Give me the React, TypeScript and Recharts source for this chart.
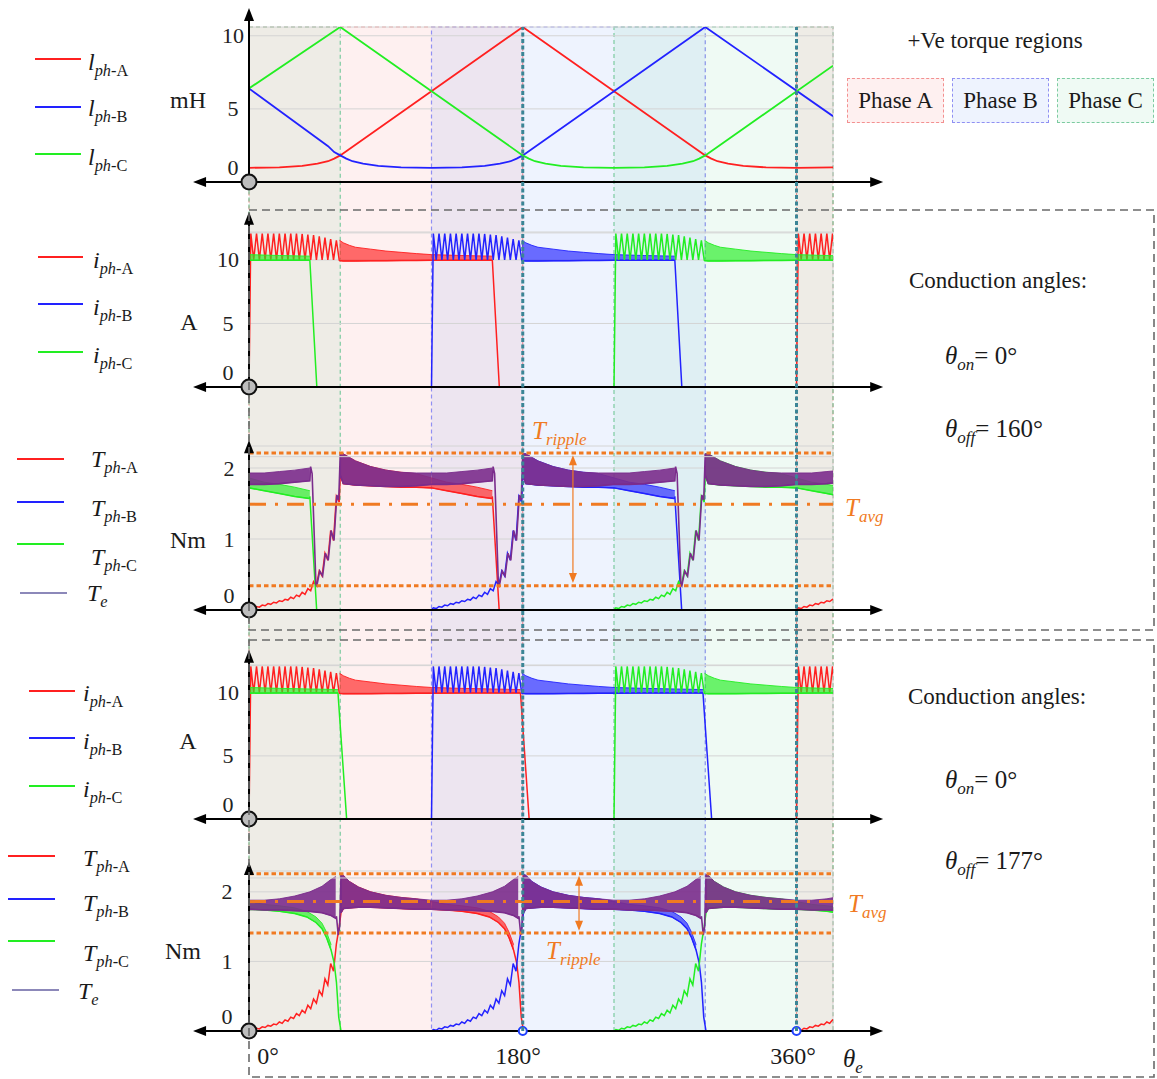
import React from 'react';
import {
    ComposedChart,
    Line,
    Area,
    XAxis,
    YAxis,
    CartesianGrid,
    ReferenceArea,
    ReferenceLine,
    ReferenceDot,
} from 'recharts';

/* ─── page / plot geometry ─────────────────────────────────────────────── */
const W = 1157;
const H = 1079;
const PLOT_LEFT = 249;
const PLOT_RIGHT = 833;
const Y_W = 60;
const REGION_TOP = 27;
const REGION_BOTTOM = 1031;
const SERIF = '"Liberation Serif", "DejaVu Serif", "Times New Roman", serif';

const RED = '#ff2020';
const BLUE = '#2222ff';
const GREEN = '#22ee22';
const PURPLE = '#7b2c8c';
const ORANGE = '#f07a22';
const TEAL = '#3b8596';
const GRID = '#d4d4d4';

/* ─── x axis: electrical angle (deg) ───────────────────────────────────── */
const X_DOMAIN: [number, number] = [0, 384];
const X_GRID = [0, 48, 96, 144, 192, 240, 288, 336, 384];
const X_ARROW = [-36.8, 417];

/* ─── +Ve torque regions ───────────────────────────────────────────────── */
const REGION_PHASE = ['A', 'A', 'B', 'C', 'C'];
const REGION_FROM = [0, 360, 120, 0, 240];
const REGION_TO = [180, 384, 300, 60, 384];
const PHASE_FILL: Record<string, string> = {
    A: 'rgba(250,105,105,0.10)',
    B: 'rgba(70,120,240,0.09)',
    C: 'rgba(50,185,115,0.08)',
};
const PHASE_EDGE: Record<string, string> = { A: '#f39090', B: '#9090f3', C: '#7ccba0' };
const PHASE_COLOR: Record<string, string> = { A: RED, B: BLUE, C: GREEN };

/* ─── phase turn-on angles (C was already conducting at the start) ─────── */
const ON_A = [0, 360];
const ON_B = [120];
const ON_C = [-120, 240];
const TE_PERIODS = [0, 120, 240, 360];

/* ─── inductance, mH ───────────────────────────────────────────────────── */
const L_A_DEG = [0, 20, 35, 45, 52, 56, 60, 180, 300, 304, 308, 315, 325, 340, 360, 384];
const L_A = [0.97, 1.0, 1.1, 1.25, 1.42, 1.6, 1.82, 10.6, 1.82, 1.6, 1.42, 1.25, 1.1, 1.0, 0.97, 1.0];
const L_B_DEG = [0, 52, 56, 60, 64, 68, 75, 85, 100, 120, 140, 155, 165, 172, 176, 180, 300, 384];
const L_B = [6.4, 2.45, 2.05, 1.82, 1.6, 1.42, 1.25, 1.1, 1.0, 0.97, 1.0, 1.1, 1.25, 1.42, 1.6, 1.82, 10.6, 4.5];
const L_C_DEG = [0, 60, 180, 184, 188, 195, 205, 220, 240, 260, 275, 285, 292, 296, 300, 384];
const L_C = [6.4, 10.6, 1.82, 1.6, 1.42, 1.25, 1.1, 1.0, 0.97, 1.0, 1.1, 1.25, 1.42, 1.6, 1.82, 7.95];

/* ─── hysteresis chopping ──────────────────────────────────────────────── */
const CHOP_FIRST = 1.2;
const CHOP_STEP = 3.75;

/* ─── phase current, A ─────────────────────────────────────────────────── */
const I_PEAKS = [12.1, 12.1, 12.1, 12.1, 12.1, 12.1, 12.1, 12.1, 12.1, 12.05, 12.0, 11.95, 11.85, 11.75, 11.65, 11.55];
const I_TROUGHS = [10, 10, 10, 10, 10, 10, 10, 10, 10, 10, 10, 10, 10, 10, 10, 10];
const I_TAIL_DEG = [59.5, 62, 66, 70, 80, 90, 100, 110, 120, 140, 160, 170, 178.5];
const I_TAIL_HI = [11.55, 11.35, 11.15, 11.0, 10.85, 10.7, 10.6, 10.5, 10.42, 10.35, 10.3, 10.28, 10.25];
const I_TAIL_LO = [9.95, 9.92, 9.92, 9.92, 9.93, 9.94, 9.95, 9.96, 9.97, 9.98, 9.98, 9.98, 9.98];
const I160_OFF_DEG = [160, 164.6];
const I160_OFF = [10, 0];
const I177_OFF_DEG = [178.5, 184.2];
const I177_OFF = [10, 0];

/* ─── phase torque, Nm (theta_off = 160) ───────────────────────────────── */
const T160_PEAKS = [0.03, 0.05, 0.07, 0.09, 0.11, 0.13, 0.15, 0.18, 0.21, 0.25, 0.3, 0.4, 0.55, 0.8, 1.12, 1.6];
const T160_TROUGHS = [0.02, 0.04, 0.06, 0.08, 0.1, 0.12, 0.14, 0.16, 0.19, 0.22, 0.27, 0.35, 0.48, 0.7, 0.98, 1.52];
const T160_TAIL_DEG = [60, 62, 70, 80, 90, 100, 110, 120, 130, 140, 150, 160];
const T160_TAIL_HI = [2.2, 2.2, 2.1, 2.02, 1.97, 1.94, 1.92, 1.86, 1.8, 1.77, 1.73, 1.68];
const T160_TAIL_LO = [1.9, 1.78, 1.76, 1.75, 1.74, 1.73, 1.73, 1.72, 1.68, 1.64, 1.6, 1.57];
const T160_OFF_DEG = [160, 164.5];
const T160_OFF = [1.6, 0];

/* ─── total torque Te (theta_off = 160), one 120 deg period ────────────── */
const TE160_B1_DEG = [0, 10, 20, 30, 40];
const TE160_B1_HI = [1.93, 1.93, 1.95, 1.97, 2.0];
const TE160_B1_LO = [1.77, 1.77, 1.78, 1.8, 1.82];
const TE160_MID_DEG = [40.5, 41.5, 44, 44.6, 46.5, 48.4, 50.25, 52.1, 54, 55.9, 57.75, 59, 60];
const TE160_MID = [2.02, 1.92, 0.36, 0.34, 0.55, 0.48, 0.8, 0.7, 1.12, 0.98, 1.62, 1.55, 2.2];
const TE160_B2_DEG = [60, 62, 70, 80, 90, 100, 110, 120];
const TE160_B2_HI = [2.2, 2.2, 2.1, 2.02, 1.97, 1.94, 1.93, 1.93];
const TE160_B2_LO = [1.9, 1.78, 1.76, 1.75, 1.74, 1.74, 1.75, 1.77];

/* ─── phase torque, Nm (theta_off = 177) ───────────────────────────────── */
const T177_PEAKS = [0.02, 0.04, 0.06, 0.08, 0.1, 0.13, 0.16, 0.2, 0.25, 0.3, 0.37, 0.46, 0.58, 0.75, 0.97, 1.25];
const T177_TROUGHS = [0.01, 0.03, 0.05, 0.07, 0.09, 0.11, 0.14, 0.18, 0.22, 0.26, 0.32, 0.4, 0.51, 0.66, 0.86, 1.5];
const T177_TAIL_DEG = [60.5, 62, 66, 72, 80, 90, 100, 110, 120, 130, 140, 150, 158, 164, 168, 171, 174];
const T177_TAIL_HI = [2.25, 2.24, 2.15, 2.07, 2.0, 1.95, 1.92, 1.9, 1.86, 1.82, 1.8, 1.77, 1.72, 1.64, 1.55, 1.42, 1.24];
const T177_TAIL_LO = [1.7, 1.76, 1.77, 1.78, 1.78, 1.77, 1.76, 1.75, 1.75, 1.74, 1.72, 1.69, 1.64, 1.56, 1.47, 1.34, 1.16];
const T177_OFF_DEG = [176, 177.5, 179, 180.5];
const T177_OFF = [0.98, 0.7, 0.2, 0];

/* ─── total torque Te (theta_off = 177) ────────────────────────────────── */
const TE177_B1_DEG = [0, 10, 20, 30, 40, 48, 54, 57];
const TE177_B1_HI = [1.88, 1.88, 1.9, 1.94, 2.0, 2.08, 2.18, 2.22];
const TE177_B1_LO = [1.75, 1.74, 1.74, 1.73, 1.72, 1.7, 1.66, 1.62];
const TE177_MID_DEG = [57.5, 58.7, 59.6, 60.5];
const TE177_MID = [1.65, 1.38, 1.5, 2.25];
const TE177_B2_DEG = [60.5, 62, 66, 72, 80, 90, 100, 110, 120];
const TE177_B2_HI = [2.25, 2.24, 2.15, 2.07, 2.0, 1.95, 1.92, 1.9, 1.88];
const TE177_B2_LO = [1.7, 1.76, 1.77, 1.78, 1.78, 1.77, 1.76, 1.75, 1.75];

/* ─── torque ripple markers ────────────────────────────────────────────── */
const RIP160 = { hi: 2.21, lo: 0.34, avg: 1.49, at: 213, arrowHi: 2.18, arrowLo: 0.38 };
const RIP177 = { hi: 2.26, lo: 1.41, avg: 1.86, at: 217, arrowHi: 2.23, arrowLo: 1.44 };

/* ─── builders ─────────────────────────────────────────────────────────── */
type Pt = { x: number; y: number };
type Rng = { x: number; r: [number, number] };

interface PhaseProfile {
    peaks: number[];
    troughs: number[];
    tailDeg: number[];
    tailHi: number[];
    tailLo: number[];
    offDeg: number[];
    off: number[];
}

const zip = (xs: number[], ys: number[]): Pt[] => xs.map((x, i) => ({ x, y: ys[i] }));

// phase waveform: chopping teeth after turn-on, dense ripple band, then switch-off ramp
function buildPhase(ons: number[], p: PhaseProfile) {
    const line: Pt[] = [];
    const bands: Rng[][] = [];
    if (ons[0] > 0) line.push({ x: 0, y: 0 });
    ons.forEach((on) => {
        const early = on < 0;
        if (early) line.push({ x: 0, y: 0 });
        else {
            line.push({ x: on, y: 0 });
            p.peaks.forEach((pk, k) => {
                const t = on + CHOP_FIRST + k * CHOP_STEP;
                line.push({ x: t, y: pk }, { x: t + CHOP_STEP / 2, y: p.troughs[k] });
            });
        }
        const band: Rng[] = [];
        p.tailDeg.forEach((d, i) => {
            if (d > p.offDeg[0]) return;
            const x = on + d;
            if (x < 0) return;
            line.push({ x, y: p.tailLo[i] });
            band.push({ x, r: [p.tailLo[i], p.tailHi[i]] });
        });
        bands.push(band);
        p.offDeg.forEach((d, i) => line.push({ x: on + d, y: p.off[i] }));
    });
    if (line[line.length - 1].y === 0) line.push({ x: X_DOMAIN[1], y: 0 });
    return { line, bands };
}

interface TeProfile {
    b1Deg: number[]; b1Hi: number[]; b1Lo: number[];
    midDeg: number[]; mid: number[];
    b2Deg: number[]; b2Hi: number[]; b2Lo: number[];
}

function buildTe(periods: number[], t: TeProfile) {
    const line: Pt[] = [{ x: 0, y: 0 }];
    const bands: Rng[][] = [];
    periods.forEach((p) => {
        const b1: Rng[] = t.b1Deg.map((d, i) => ({ x: p + d, r: [t.b1Lo[i], t.b1Hi[i]] }));
        const b2: Rng[] = t.b2Deg.map((d, i) => ({ x: p + d, r: [t.b2Lo[i], t.b2Hi[i]] }));
        b1.forEach((b) => line.push({ x: b.x, y: b.r[0] }));
        t.midDeg.forEach((d, i) => line.push({ x: p + d, y: t.mid[i] }));
        b2.forEach((b) => line.push({ x: b.x, y: b.r[0] }));
        bands.push(b1, b2);
    });
    return { line, bands };
}

const I160: PhaseProfile = { peaks: I_PEAKS, troughs: I_TROUGHS, tailDeg: I_TAIL_DEG, tailHi: I_TAIL_HI, tailLo: I_TAIL_LO, offDeg: I160_OFF_DEG, off: I160_OFF };
const I177: PhaseProfile = { ...I160, offDeg: I177_OFF_DEG, off: I177_OFF };
const T160: PhaseProfile = { peaks: T160_PEAKS, troughs: T160_TROUGHS, tailDeg: T160_TAIL_DEG, tailHi: T160_TAIL_HI, tailLo: T160_TAIL_LO, offDeg: T160_OFF_DEG, off: T160_OFF };
const T177: PhaseProfile = { peaks: T177_PEAKS, troughs: T177_TROUGHS, tailDeg: T177_TAIL_DEG, tailHi: T177_TAIL_HI, tailLo: T177_TAIL_LO, offDeg: T177_OFF_DEG, off: T177_OFF };
const TE160: TeProfile = { b1Deg: TE160_B1_DEG, b1Hi: TE160_B1_HI, b1Lo: TE160_B1_LO, midDeg: TE160_MID_DEG, mid: TE160_MID, b2Deg: TE160_B2_DEG, b2Hi: TE160_B2_HI, b2Lo: TE160_B2_LO };
const TE177: TeProfile = { b1Deg: TE177_B1_DEG, b1Hi: TE177_B1_HI, b1Lo: TE177_B1_LO, midDeg: TE177_MID_DEG, mid: TE177_MID, b2Deg: TE177_B2_DEG, b2Hi: TE177_B2_HI, b2Lo: TE177_B2_LO };

const ONS: Record<string, number[]> = { A: ON_A, B: ON_B, C: ON_C };

/* ─── series elements ──────────────────────────────────────────────────── */
let zi = 200;
function seriesEls(key: string, built: { line: Pt[]; bands: Rng[][] }, color: string, width = 1.5, bandOpacity = 0.65) {
    const els = built.bands.map((b, i) => (
        <Area
            key={`${key}-b${i}`}
            data={b}
            dataKey="r"
            type="linear"
            stroke={color}
            strokeWidth={0.9}
            fill={color}
            fillOpacity={bandOpacity}
            dot={false}
            activeDot={false}
            isAnimationActive={false}
            zIndex={zi++}
        />
    ));
    els.push(
        <Line
            key={`${key}-l`}
            data={built.line}
            dataKey="y"
            type="linear"
            stroke={color}
            strokeWidth={width}
            dot={false}
            activeDot={false}
            isAnimationActive={false}
            zIndex={zi++}
        />
    );
    return els;
}

function phaseEls(prefix: string, prof: PhaseProfile) {
    return ['A', 'B', 'C'].flatMap((ph) => seriesEls(`${prefix}${ph}`, buildPhase(ONS[ph], prof), PHASE_COLOR[ph]));
}

/* ─── axis arrows ──────────────────────────────────────────────────────── */
function Arrow({ x1, y1, x2, y2, both, color = '#000', w = 2, len = 13, half = 5 }: any) {
    const dx = x2 - x1;
    const dy = y2 - y1;
    const L = Math.hypot(dx, dy) || 1;
    const ux = dx / L;
    const uy = dy / L;
    const head = (tx: number, ty: number, sx: number, sy: number) => {
        const bx = tx - sx * len;
        const by = ty - sy * len;
        return `${tx},${ty} ${bx - sy * half},${by + sx * half} ${bx + sy * half},${by - sx * half}`;
    };
    return (
        <g>
            <line
                x1={both ? x1 + ux * len * 0.7 : x1}
                y1={both ? y1 + uy * len * 0.7 : y1}
                x2={x2 - ux * len * 0.7}
                y2={y2 - uy * len * 0.7}
                stroke={color}
                strokeWidth={w}
            />
            <polygon points={head(x2, y2, ux, uy)} fill={color} />
            {both && <polygon points={head(x1, y1, -ux, -uy)} fill={color} />}
        </g>
    );
}

const arrowBoth = (p: any) => <Arrow {...p} both />;
const arrowOne = (p: any) => <Arrow {...p} />;
const rippleArrow = (p: any) => <Arrow {...p} both color={ORANGE} w={1.2} len={10} half={4} />;

/* ─── panel frame ──────────────────────────────────────────────────────── */
interface PanelCfg {
    top: number;
    bottom: number;
    max: number;
    ticks: number[];
    tip: number;
    border?: number;
    tickDx: number;
}

const P1: PanelCfg = { top: 27, bottom: 182, max: 10.6, ticks: [0, 5, 10], tip: 11.9, tickDx: 16 };
const P2: PanelCfg = { top: 232, bottom: 387, max: 12.2, ticks: [0, 5, 10], tip: 13.8, border: 12.13, tickDx: 21 };
const P3: PanelCfg = { top: 446, bottom: 610, max: 2.31, ticks: [0, 1, 2], tip: 2.39, border: 2.16, tickDx: 20 };
const P4: PanelCfg = { top: 665, bottom: 819, max: 12.2, ticks: [0, 5, 10], tip: 13.4, border: 12.15, tickDx: 21 };
const P5: PanelCfg = { top: 871, bottom: 1031, max: 2.3, ticks: [0, 1, 2], tip: 2.43, border: 2.2, tickDx: 22 };

const layer: React.CSSProperties = { position: 'absolute', left: 0, top: 0 };

function Panel({ cfg, children }: { cfg: PanelCfg; children: any }) {
    const yTick = (props: any) => {
        const { x, y, payload } = props;
        return (
            <text
                x={x - cfg.tickDx}
                y={payload.value === 0 ? y - 15 : y}
                textAnchor="middle"
                dominantBaseline="central"
                fontFamily={SERIF}
                fontSize={22}
                fill="#222"
            >
                {payload.value}
            </text>
        );
    };
    return (
        <div style={layer}>
            <ComposedChart
                width={W}
                height={H}
                margin={{ top: cfg.top, bottom: H - cfg.bottom, left: PLOT_LEFT - Y_W, right: W - PLOT_RIGHT }}
            >
                <CartesianGrid stroke={GRID} strokeWidth={1} />
                <XAxis
                    dataKey="x"
                    type="number"
                    domain={X_DOMAIN}
                    ticks={X_GRID}
                    interval={0}
                    allowDataOverflow
                    height={0}
                    tick={false}
                    axisLine={false}
                    tickLine={false}
                />
                <YAxis
                    type="number"
                    domain={[0, cfg.max]}
                    ticks={cfg.ticks}
                    interval={0}
                    allowDataOverflow
                    width={Y_W}
                    tickSize={0}
                    tickMargin={0}
                    tick={yTick}
                    axisLine={false}
                    tickLine={false}
                />
                {cfg.border !== undefined && (
                    <ReferenceLine y={cfg.border} stroke={GRID} strokeWidth={1} ifOverflow="visible" />
                )}
                {children}
                <ReferenceLine
                    segment={[{ x: X_ARROW[0], y: 0 }, { x: X_ARROW[1], y: 0 }]}
                    ifOverflow="visible"
                    shape={arrowBoth}
                    zIndex={1500}
                />
                <ReferenceLine
                    segment={[{ x: 0, y: 0 }, { x: 0, y: cfg.tip }]}
                    ifOverflow="visible"
                    shape={arrowOne}
                    zIndex={1500}
                />
                <ReferenceDot x={0} y={0} r={7.5} fill="#bdbdbd" stroke="#111" strokeWidth={2} ifOverflow="visible" zIndex={1600} />
            </ComposedChart>
        </div>
    );
}

function rippleEls(key: string, r: typeof RIP160) {
    return [
        <ReferenceLine key={`${key}h`} y={r.hi} stroke={ORANGE} strokeWidth={3} strokeDasharray="4.5 3" ifOverflow="visible" zIndex={1400} />,
        <ReferenceLine key={`${key}l`} y={r.lo} stroke={ORANGE} strokeWidth={3} strokeDasharray="4.5 3" ifOverflow="visible" zIndex={1400} />,
        <ReferenceLine key={`${key}a`} y={r.avg} stroke={ORANGE} strokeWidth={3} strokeDasharray="17 9 3 9" ifOverflow="visible" zIndex={1400} />,
        <ReferenceLine
            key={`${key}r`}
            segment={[{ x: r.at, y: r.arrowLo }, { x: r.at, y: r.arrowHi }]}
            ifOverflow="visible"
            shape={rippleArrow}
            zIndex={1400}
        />,
    ];
}

const DUMMY = [{ x: 0, y: 0 }, { x: 384, y: 1 }];

function Regions() {
    return (
        <div style={layer}>
            <ComposedChart
                width={W}
                height={H}
                margin={{ top: REGION_TOP, bottom: H - REGION_BOTTOM, left: PLOT_LEFT, right: W - PLOT_RIGHT }}
            >
                <XAxis dataKey="x" type="number" domain={X_DOMAIN} hide allowDataOverflow />
                <YAxis type="number" domain={[0, 1]} hide />
                <Line data={DUMMY} dataKey="y" stroke="none" dot={false} isAnimationActive={false} />
                {REGION_PHASE.map((ph, i) => (
                    <ReferenceArea
                        key={i}
                        x1={REGION_FROM[i]}
                        x2={REGION_TO[i]}
                        fill={PHASE_FILL[ph]}
                        fillOpacity={1}
                        stroke={PHASE_EDGE[ph]}
                        strokeWidth={1.2}
                        strokeDasharray="4 3"
                        ifOverflow="visible"
                    />
                ))}
            </ComposedChart>
        </div>
    );
}

function Markers() {
    return (
        <div style={layer}>
            <ComposedChart
                width={W}
                height={H}
                margin={{ top: REGION_TOP, bottom: H - REGION_BOTTOM, left: PLOT_LEFT, right: W - PLOT_RIGHT }}
            >
                <XAxis dataKey="x" type="number" domain={X_DOMAIN} hide allowDataOverflow />
                <YAxis type="number" domain={[0, 1]} hide />
                <Line data={DUMMY} dataKey="y" stroke="none" dot={false} isAnimationActive={false} />
                {[180, 360].map((x) => (
                    <ReferenceLine key={x} x={x} stroke={TEAL} strokeWidth={3} strokeDasharray="4 2.5" ifOverflow="visible" />
                ))}
            </ComposedChart>
        </div>
    );
}

/* ─── text helpers ─────────────────────────────────────────────────────── */
function Txt({ x, y, size = 22, anchor = 'middle', color = '#1a1a1a', children }: any) {
    return (
        <div
            style={{
                position: 'absolute',
                left: x,
                top: y,
                transform: anchor === 'middle' ? 'translate(-50%,-50%)' : 'translate(0,-50%)',
                fontSize: size,
                color,
                whiteSpace: 'nowrap',
                lineHeight: 1,
            }}
        >
            {children}
        </div>
    );
}

function Sym({ b, s, t }: { b: string; s: string; t?: string }) {
    return (
        <span>
            <i>{b}</i>
            <span style={{ fontSize: '0.68em', position: 'relative', top: '0.38em' }}>
                <i>{s}</i>
                {t}
            </span>
        </span>
    );
}

interface LegendRow { x1: number; x2: number; y: number; lx: number; ly: number; color: string; b: string; s: string; t?: string }

const LEGEND_ROWS: LegendRow[] = [
    { x1: 35, x2: 81, y: 59, lx: 88, ly: 62, color: RED, b: 'l', s: 'ph', t: '-A' },
    { x1: 35, x2: 81, y: 107, lx: 88, ly: 108, color: BLUE, b: 'l', s: 'ph', t: '-B' },
    { x1: 35, x2: 81, y: 154, lx: 88, ly: 157, color: GREEN, b: 'l', s: 'ph', t: '-C' },
    { x1: 38, x2: 83, y: 257, lx: 93, ly: 260, color: RED, b: 'i', s: 'ph', t: '-A' },
    { x1: 38, x2: 83, y: 304, lx: 93, ly: 307, color: BLUE, b: 'i', s: 'ph', t: '-B' },
    { x1: 38, x2: 83, y: 352, lx: 93, ly: 355, color: GREEN, b: 'i', s: 'ph', t: '-C' },
    { x1: 17, x2: 64, y: 459, lx: 91, ly: 459, color: RED, b: 'T', s: 'ph', t: '-A' },
    { x1: 17, x2: 64, y: 502, lx: 91, ly: 508, color: BLUE, b: 'T', s: 'ph', t: '-B' },
    { x1: 17, x2: 64, y: 544, lx: 91, ly: 557, color: GREEN, b: 'T', s: 'ph', t: '-C' },
    { x1: 20, x2: 67, y: 593, lx: 87, ly: 593, color: '#8c88b9', b: 'T', s: 'e' },
    { x1: 29, x2: 75, y: 691, lx: 83, ly: 693, color: RED, b: 'i', s: 'ph', t: '-A' },
    { x1: 29, x2: 75, y: 738, lx: 83, ly: 741, color: BLUE, b: 'i', s: 'ph', t: '-B' },
    { x1: 29, x2: 75, y: 786, lx: 83, ly: 789, color: GREEN, b: 'i', s: 'ph', t: '-C' },
    { x1: 8, x2: 55, y: 856, lx: 83, ly: 858, color: RED, b: 'T', s: 'ph', t: '-A' },
    { x1: 8, x2: 55, y: 899, lx: 83, ly: 903, color: BLUE, b: 'T', s: 'ph', t: '-B' },
    { x1: 8, x2: 55, y: 941, lx: 83, ly: 953, color: GREEN, b: 'T', s: 'ph', t: '-C' },
    { x1: 12, x2: 59, y: 990, lx: 78, ly: 991, color: '#8c88b9', b: 'T', s: 'e' },
];

const PHASE_BOXES = [
    { ph: 'A', left: 847, label: 'Phase A' },
    { ph: 'B', left: 952, label: 'Phase B' },
    { ph: 'C', left: 1057, label: 'Phase C' },
];

// angle labels under the last panel
const DEG_LABELS = [
    { text: '0°', x: 268 },
    { text: '180°', x: 518 },
    { text: '360°', x: 793 },
];

export default function App() {
    zi = 200;
    return (
        <div
            style={{
                position: 'absolute',
                left: 0,
                top: 0,
                width: W,
                height: H,
                background: '#fff',
                fontFamily: SERIF,
                color: '#1a1a1a',
                overflow: 'hidden',
            }}
        >
            <Regions />

            {/* inductance */}
            <Panel cfg={P1}>
                {[
                    ['A', L_A_DEG, L_A],
                    ['B', L_B_DEG, L_B],
                    ['C', L_C_DEG, L_C],
                ].map(([ph, d, v]: any) => (
                    <Line
                        key={`l${ph}`}
                        data={zip(d, v)}
                        dataKey="y"
                        type="linear"
                        stroke={PHASE_COLOR[ph]}
                        strokeWidth={1.8}
                        dot={false}
                        activeDot={false}
                        isAnimationActive={false}
                    />
                ))}
            </Panel>

            {/* currents, theta_off = 160 */}
            <Panel cfg={P2}>{phaseEls('i160', I160)}</Panel>

            {/* torques, theta_off = 160 */}
            <Panel cfg={P3}>
                {[...phaseEls('t160', T160), ...seriesEls('te160', buildTe(TE_PERIODS, TE160), PURPLE, 1.6, 0.9), ...rippleEls('r160', RIP160)]}
            </Panel>

            {/* currents, theta_off = 177 */}
            <Panel cfg={P4}>{phaseEls('i177', I177)}</Panel>

            {/* torques, theta_off = 177 */}
            <Panel cfg={P5}>
                {[
                    ...phaseEls('t177', T177),
                    ...seriesEls('te177', buildTe(TE_PERIODS, TE177), PURPLE, 1.6, 0.9),
                    ...rippleEls('r177', RIP177),
                    ...[180, 360].map((x) => (
                        <ReferenceDot key={`o${x}`} x={x} y={0} r={4} fill="#fff" stroke="#2040ff" strokeWidth={2} ifOverflow="visible" zIndex={1700} />
                    )),
                ]}
            </Panel>

            <Markers />

            {/* conduction-angle groups */}
            <svg width={W} height={H} style={{ position: 'absolute', left: 0, top: 0 }}>
                <rect x={249} y={210} width={905} height={420} fill="none" stroke="#6a6a6a" strokeWidth={1.6} strokeDasharray="8 5" />
                <rect x={249} y={640} width={905} height={437} fill="none" stroke="#6a6a6a" strokeWidth={1.6} strokeDasharray="8 5" />
            </svg>

            {/* legends */}
            {LEGEND_ROWS.map((r, i) => (
                <React.Fragment key={i}>
                    <div style={{ position: 'absolute', left: r.x1, top: r.y - 1, width: r.x2 - r.x1, height: 2, background: r.color }} />
                    <Txt x={r.lx} y={r.ly} size={24} anchor="start">
                        <Sym b={r.b} s={r.s} t={r.t} />
                    </Txt>
                </React.Fragment>
            ))}

            {/* units */}
            <Txt x={188} y={100} size={24}>mH</Txt>
            <Txt x={189} y={322} size={24}>A</Txt>
            <Txt x={188} y={540} size={24}>Nm</Txt>
            <Txt x={188} y={741} size={24}>A</Txt>
            <Txt x={183} y={951} size={24}>Nm</Txt>

            {/* right-hand notes */}
            <Txt x={995} y={40} size={23}>+Ve torque regions</Txt>
            {PHASE_BOXES.map((b) => (
                <div
                    key={b.ph}
                    style={{
                        position: 'absolute',
                        left: b.left,
                        top: 78,
                        width: 97,
                        height: 45,
                        boxSizing: 'border-box',
                        border: `1.3px dashed ${PHASE_EDGE[b.ph]}`,
                        background: PHASE_FILL[b.ph],
                        display: 'flex',
                        alignItems: 'center',
                        justifyContent: 'center',
                        fontSize: 23,
                    }}
                >
                    {b.label}
                </div>
            ))}

            <Txt x={998} y={280} size={23}>Conduction angles:</Txt>
            <Txt x={945} y={355} size={25} anchor="start"><Sym b="θ" s="on" />= 0°</Txt>
            <Txt x={945} y={428} size={25} anchor="start"><Sym b="θ" s="off" />= 160°</Txt>

            <Txt x={997} y={696} size={23}>Conduction angles:</Txt>
            <Txt x={945} y={779} size={25} anchor="start"><Sym b="θ" s="on" />= 0°</Txt>
            <Txt x={945} y={860} size={25} anchor="start"><Sym b="θ" s="off" />= 177°</Txt>

            {/* ripple labels */}
            <Txt x={845} y={507} size={25} anchor="start" color={ORANGE}><Sym b="T" s="avg" /></Txt>
            <Txt x={532} y={430} size={25} anchor="start" color={ORANGE}><Sym b="T" s="ripple" /></Txt>
            <Txt x={848} y={903} size={25} anchor="start" color={ORANGE}><Sym b="T" s="avg" /></Txt>
            <Txt x={546} y={950} size={25} anchor="start" color={ORANGE}><Sym b="T" s="ripple" /></Txt>

            {DEG_LABELS.map((d) => (
                <Txt key={d.text} x={d.x} y={1056} size={24}>{d.text}</Txt>
            ))}
            <Txt x={843} y={1058} size={25} anchor="start"><Sym b="θ" s="e" /></Txt>
        </div>
    );
}
